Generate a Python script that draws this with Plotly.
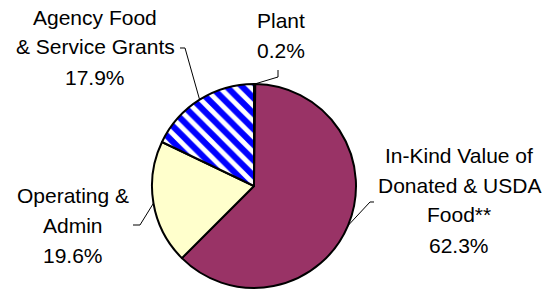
import math
import plotly.graph_objects as go

# ---- data ----
categories = ["Plant", "In-Kind Value of Donated & USDA Food**",
              "Operating & Admin", "Agency Food & Service Grants"]
values = [0.2, 62.3, 19.6, 17.9]
label_text = [["Plant"], ["In-Kind Value of", "Donated & USDA", "Food**"],
              ["Operating &", "Admin"], ["Agency Food", "& Service Grants"]]

# ---- styles ----
colors = ["#000000", "#993366", "#FFFFCC", "#FFFFFF"]
shapes_pat = ["", "", "", "\\"]
W, H = 542, 292
CX, CY, R = 254, 186, 102
FONT = dict(family="Liberation Sans, Arial, sans-serif", size=21, color="#000000")
LINE_H = 30
# label block centre (px) and leader elbow/end (px)
label_pos = [(281, 35), (459, 200), (73, 225), (95, 47)]
leader_pts = [[(278, 77), (278, 70)], [(370, 202), (374, 202)],
              [(140, 225), (133, 225)], [(185, 48), (180, 48)]]


def px(x, y):
    return x / W, 1 - y / H


fig = go.Figure(go.Pie(
    labels=categories, values=values, sort=False, direction="clockwise",
    rotation=0, textinfo="none", hoverinfo="label+percent",
    marker=dict(colors=colors, line=dict(color="#000000", width=2),
                pattern=dict(shape=shapes_pat, fgcolor="#0000FF", bgcolor="#FFFFFF",
                             size=11, solidity=0.55, fillmode="replace", fgopacity=1)),
    domain=dict(x=[(CX - R) / W, (CX + R) / W], y=[(H - CY - R) / H, (H - CY + R) / H]),
    showlegend=False,
))

total = sum(values)
annotations = []
shapes = []
cum = 0.0
for i, v in enumerate(values):
    mid = (cum + v / 2) / total * 2 * math.pi
    cum += v
    ex, ey = CX + R * math.sin(mid), CY - R * math.cos(mid)
    lines = label_text[i] + [f"{v:.1f}%"]
    lx, ly = label_pos[i]
    n = len(lines)
    for k, t in enumerate(lines):
        yy = ly + (k - (n - 1) / 2) * LINE_H
        ax, ay = px(lx, yy)
        annotations.append(dict(x=ax, y=ay, xref="paper", yref="paper", text=t,
                                showarrow=False, font=FONT, xanchor="center",
                                yanchor="middle"))
    pts = [(ex, ey)] + leader_pts[i]
    path = "M " + " L ".join(f"{px(a, b)[0]:.5f},{px(a, b)[1]:.5f}" for a, b in pts)
    shapes.append(dict(type="path", path=path, xref="paper", yref="paper",
                       line=dict(color="#000000", width=1)))

fig.update_layout(width=W, height=H, margin=dict(l=0, r=0, t=0, b=0),
                  paper_bgcolor="#FFFFFF", plot_bgcolor="#FFFFFF",
                  annotations=annotations, shapes=shapes)
fig.write_html("out.html", config={"displayModeBar": False},
               post_script="document.body.style.margin='0';document.body.style.padding='0';")
